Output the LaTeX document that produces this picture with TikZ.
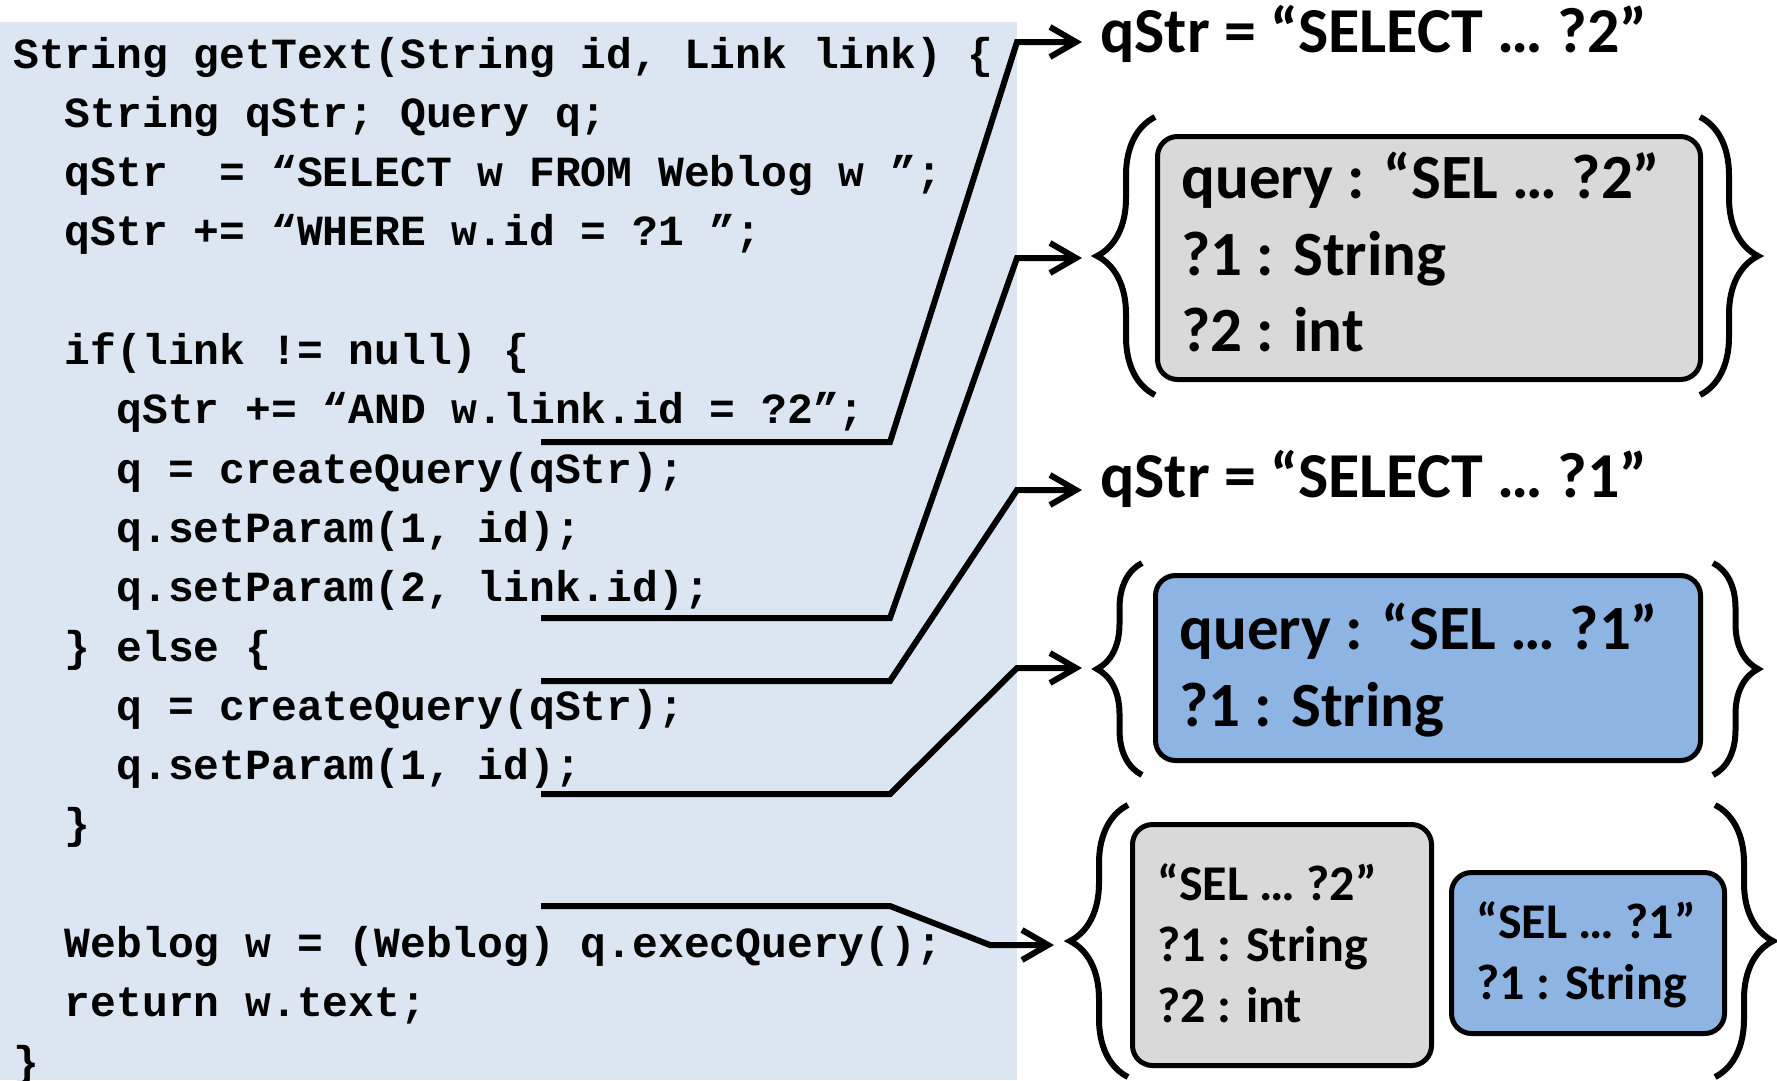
\documentclass[tikz,border=0pt]{standalone}
\usepackage{fontspec}
\usepackage{xcolor}
\usepackage{tikz}
\usetikzlibrary{arrows.meta, decorations.pathreplacing}

\newfontfamily\codefont{Liberation Mono}
\newfontfamily\calfont{Carlito}

\definecolor{codebg}{HTML}{DCE6F2}
\definecolor{grayfill}{HTML}{D9D9D9}
\definecolor{bluefill}{HTML}{8EB4E3}

\begin{document}
\begin{tikzpicture}[x=1pt, y=-1pt,
        plainspace/.style={execute at begin node={\spaceskip=0pt\xspaceskip=0pt\relax}},
        codetext/.style={plainspace, inner sep=0pt, align=left, text width=1000pt,
            font=\codefont\bfseries\fontsize{43}{59.3}\selectfont},
        qstrtext/.style={inner sep=0pt, font=\calfont\bfseries\fontsize{64}{70}\selectfont},
        qbox/.style={plainspace, draw, line width=5pt, rounded corners=20pt, inner ysep=0pt,
            align=left, anchor=north west},
        bigbox/.style={qbox, inner xsep=24pt, font=\calfont\bfseries\fontsize{63}{76.5}\selectfont},
        smallbox/.style={qbox, inner xsep=25pt, font=\calfont\bfseries\fontsize{50}{61}\selectfont},
        curly/.style={decorate, decoration={brace, amplitude=#1}, line width=6pt},
        flow/.style={line width=6pt, -{Straight Barb[length=26pt, width=30pt]}}]
    \useasboundingbox (0,0) rectangle (1777,1080);

    % Code
    \fill[codebg] (0,22) rectangle (1017,1080);
    \node[codetext, anchor=base west] (code) at (13,68) {%
        String getText(String id, Link link) \{\\
        ~~String qStr; Query q;\\
        ~~qStr~~=~“SELECT w FROM Weblog w ”;\\
        ~~qStr += “WHERE w.id = ?1 ”;\\
        \mbox{}\\
        ~~if(link != null) \{\\
        ~~~~qStr += “AND w.link.id = ?2”;\\
        ~~~~q = createQuery(qStr);\\
        ~~~~q.setParam(1, id);\\
        ~~~~q.setParam(2, link.id);\\
        ~~\} else \{\\
        ~~~~q = createQuery(qStr);\\
        ~~~~q.setParam(1, id);\\
        ~~\}\\
        \mbox{}\\
        ~~Weblog w = (Weblog) q.execQuery();\\
        ~~return w.text;\\
        \}};

    % Results
    \node[qstrtext, anchor=base west] (lblTwo) at (1100,52) {qStr = “SELECT … ?2”};
    \node[bigbox, fill=grayfill, text width=495pt, text height=62pt, text depth=181pt]
        (boxTwo) at (1155,134) {query : “SEL … ?2”\\?1 : String\\?2 : int};
    \node[qstrtext, anchor=base west] (lblOne) at (1100,497) {qStr = “SELECT … ?1”};
    \node[bigbox, fill=bluefill, text width=497pt, text height=74pt, text depth=111pt]
        (boxOne) at (1153,573) {query : “SEL … ?1”\\?1 : String};
    \node[smallbox, fill=grayfill, text width=249pt, text height=76pt, text depth=165pt]
        (mixGray) at (1130,822) {“SEL … ?2”\\?1 : String\\?2 : int};
    \node[smallbox, fill=bluefill, text width=223pt, text height=66pt, text depth=95pt]
        (mixBlue) at (1449,870) {“SEL … ?1”\\?1 : String};

    % Braces
    \draw[curly=58pt] (1155,395) -- (1155,117);
    \draw[curly=58pt] (1700,117) -- (1700,395);
    \draw[curly=45pt] (1142,775) -- (1142,563);
    \draw[curly=45pt] (1713,563) -- (1713,775);
    \draw[curly=58pt] (1128,1077) -- (1128,805);
    \draw[curly=58pt] (1715,805) -- (1715,1077);

    % Links
    \coordinate (fromAnd) at (541,442);
    \coordinate (fromSetTwo) at (541,618);
    \coordinate (fromElse) at (541,681);
    \coordinate (fromSetOne) at (541,794);
    \coordinate (fromExec) at (541,906);
    \coordinate (toLblTwo) at ([xshift=-18pt, yshift=10pt]lblTwo.base west);
    \coordinate (toBoxTwo) at ([xshift=-73pt]boxTwo.west);
    \coordinate (toLblOne) at ([xshift=-18pt, yshift=7pt]lblOne.base west);
    \coordinate (toBoxOne) at ([xshift=-71pt]boxOne.west);
    \coordinate (toMix) at ([xshift=-76pt]mixGray.west);

    \draw[flow] (fromAnd) -- ++(349,0) -- ([xshift=-65pt]toLblTwo) -- (toLblTwo);
    \draw[flow] (fromSetTwo) -- ++(349,0) -- ([xshift=-65pt]toBoxTwo) -- (toBoxTwo);
    \draw[flow] (fromElse) -- ++(349,0) -- ([xshift=-65pt]toLblOne) -- (toLblOne);
    \draw[flow] (fromSetOne) -- ++(349,0) -- ([xshift=-65pt]toBoxOne) -- (toBoxOne);
    \draw[flow] (fromExec) -- ++(349,0) -- ([xshift=-64pt]toMix) -- (toMix);

\end{tikzpicture}
\end{document}
